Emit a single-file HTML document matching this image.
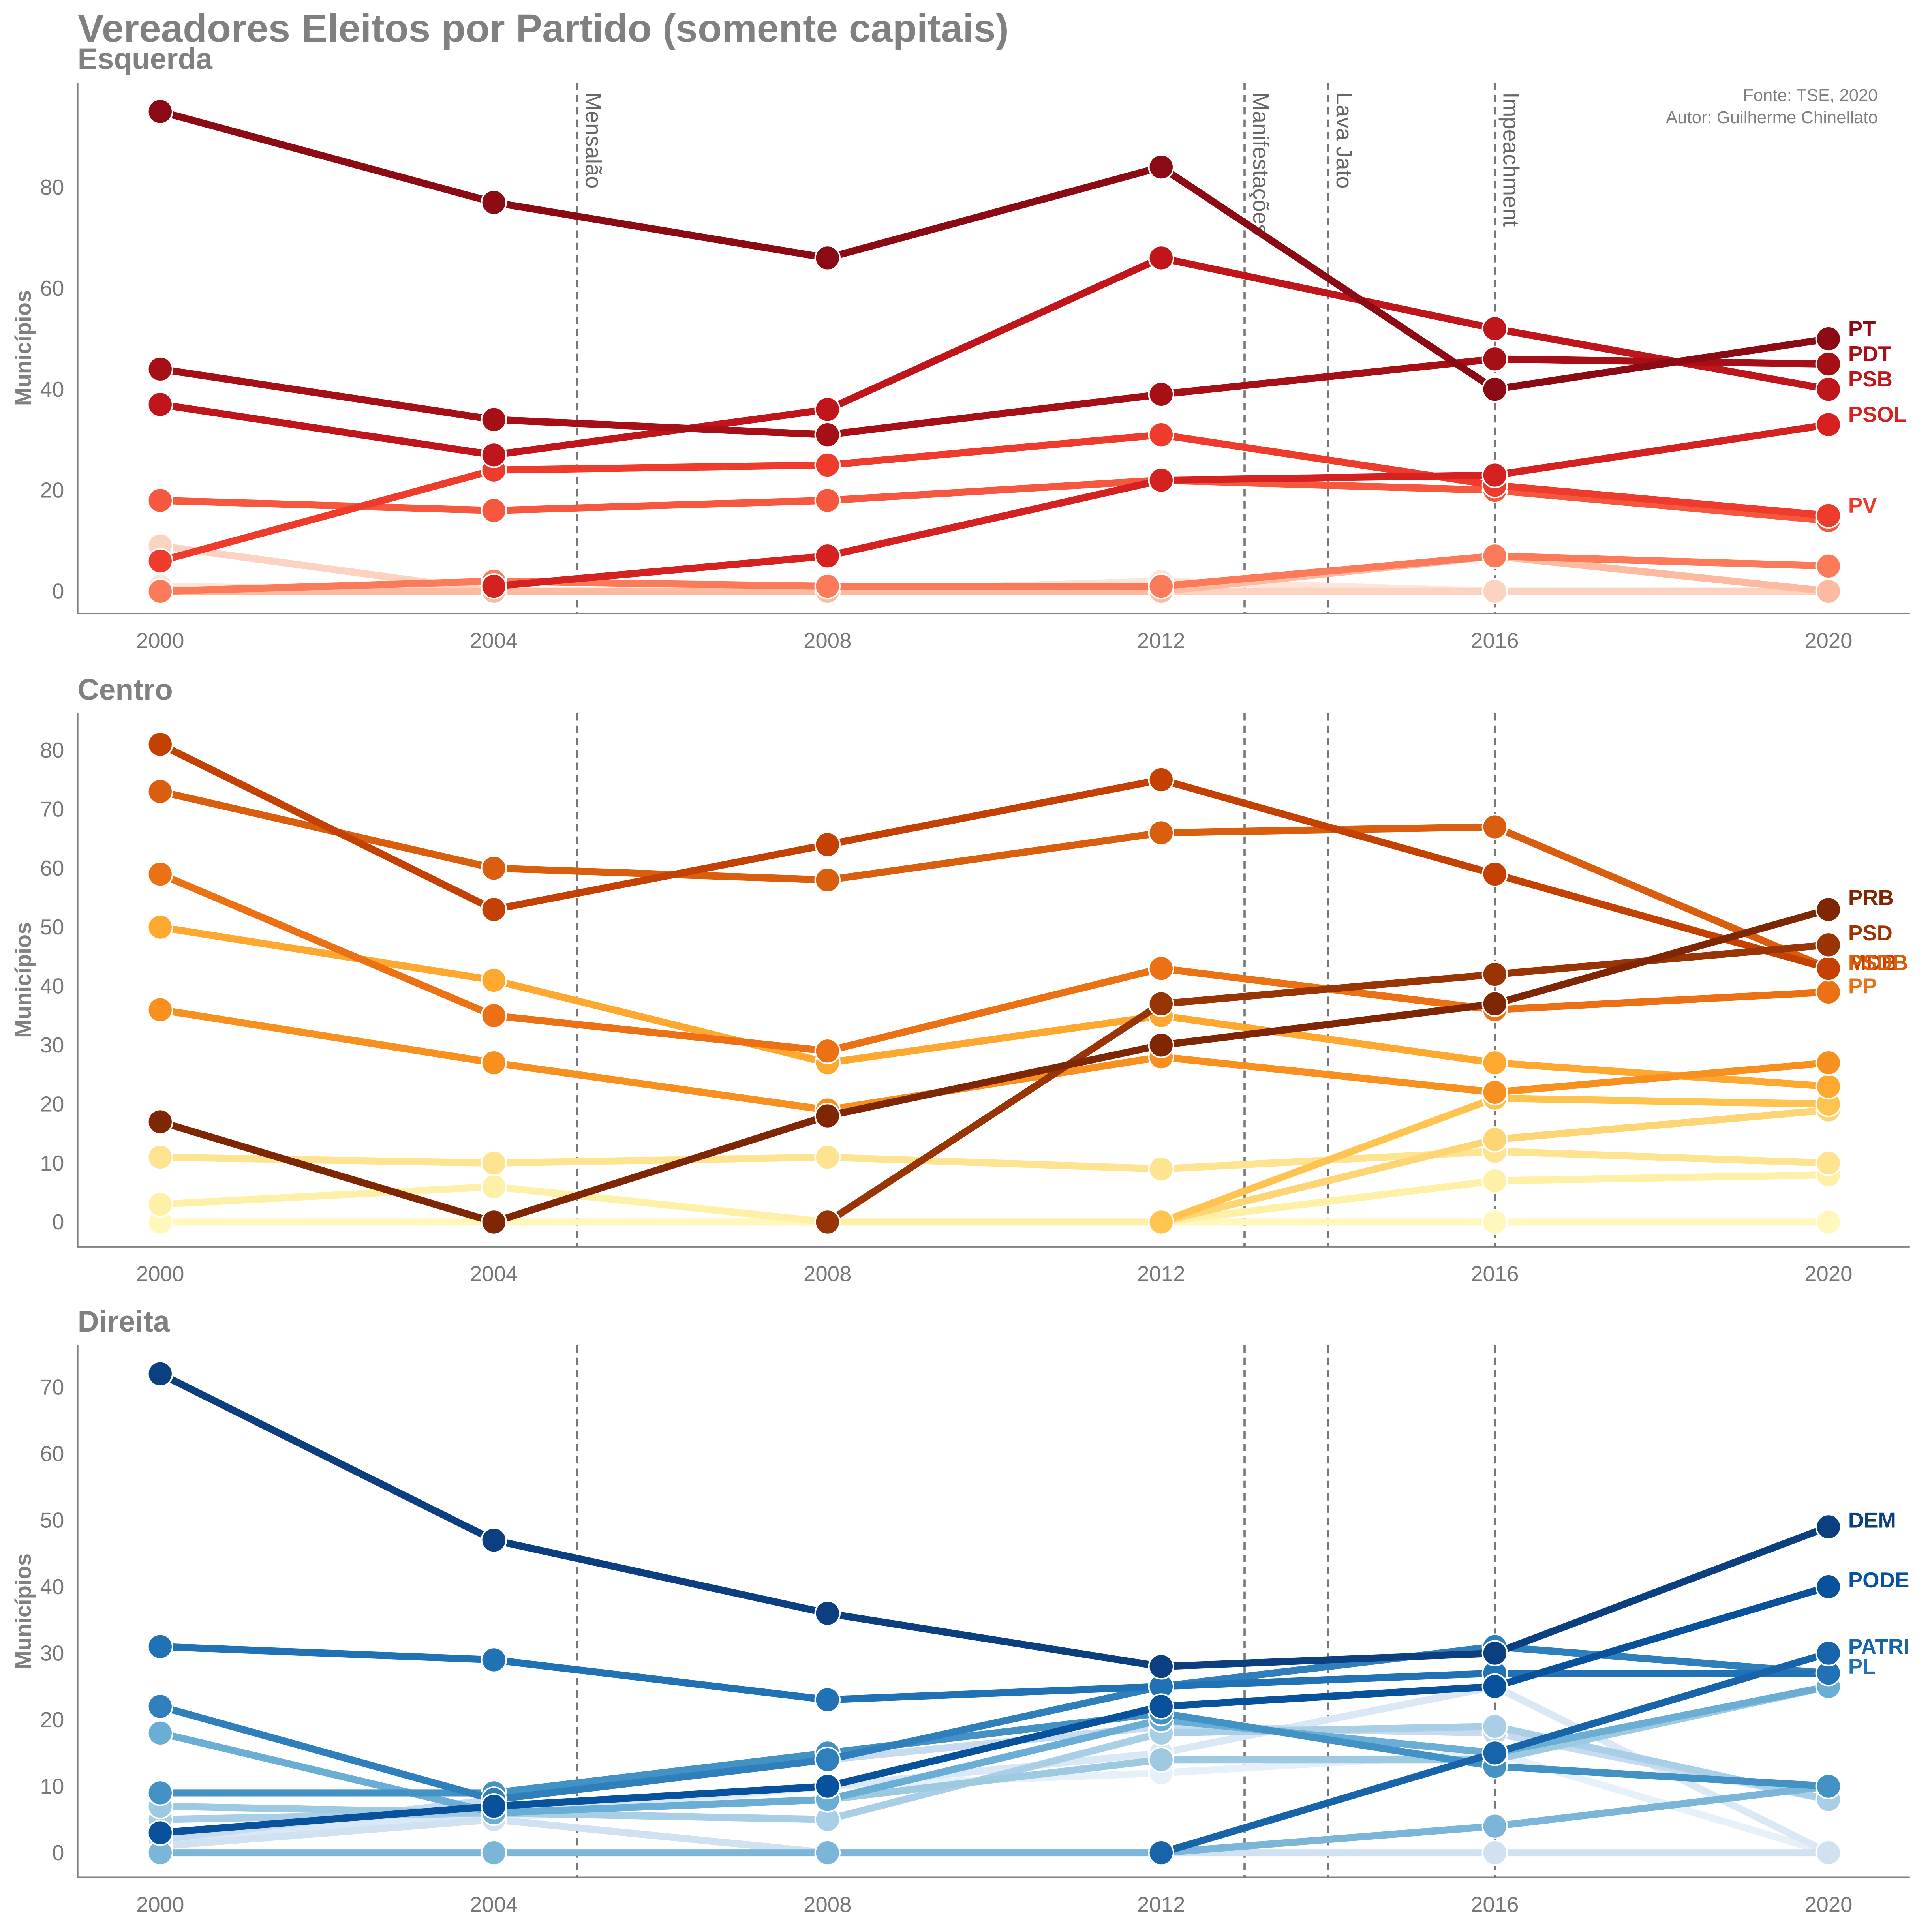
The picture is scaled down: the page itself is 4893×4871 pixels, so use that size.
<!DOCTYPE html>
<html><head><meta charset="utf-8"><style>
html,body{margin:0;padding:0;background:#fff}
svg{display:block;font-family:"Liberation Sans",Arial,sans-serif}
</style></head><body>
<svg id="chart" width="4893" height="4871" viewBox="0 0 1568 1561" xmlns="http://www.w3.org/2000/svg">
<rect width="1568" height="1561" fill="#fff"/>
<text x="63" y="34" font-size="32" font-weight="bold" fill="#808080">Vereadores Eleitos por Partido (somente capitais)</text>
<text x="1524" y="82" font-size="14" fill="#808080" text-anchor="end">Fonte: TSE, 2020</text>
<text x="1524" y="100" font-size="14" fill="#808080" text-anchor="end">Autor: Guilherme Chinellato</text>
</svg>
<script>
const years = [2000, 2004, 2008, 2012, 2016, 2020];
const eventYears = [2005, 2013, 2014, 2016];
const eventLabels = ["Mensalão", "Manifestações", "Lava Jato", "Impeachment"];

const esqColors = ["#8b0a14","#a50f15","#c0151b","#d52221","#ef3b2c","#f6573f","#fb7a5a","#fcbba1","#fcd3c1","#fee5d9"];
const esqPT   = [95,77,66,84,40,50];
const esqPDT  = [44,34,31,39,46,45];
const esqPSB  = [37,27,36,66,52,40];
const esqPSOL = [null,1,7,22,23,33];
const esqE1   = [6,24,25,31,21,15];
const esqPV   = [18,16,18,22,20,14];
const esqE3   = [0,2,1,1,7,5];
const esqE4   = [0,0,0,0,7,0];
const esqE5   = [9,0,0,0,0,0];
const esqE6   = [1,0,0,2,0,0];
const esqLabels = ["PT","PDT","PSB","PSOL","PV"];
const esqLabelVals = [52,47,42,35,17];
const esqLabelColors = ["#8b0a14","#a50f15","#c0151b","#d52221","#ef3b2c"];
const esqTicks = [0,20,40,60,80];

const cenColors = ["#7f2704","#993404","#c44103","#d95f0e","#ec7014","#f7901e","#fea82f","#fec44f","#fed575","#fee391","#fff0a8","#fff7bc"];
const cenPRB  = [17,0,18,30,37,53];
const cenPSD  = [null,null,0,37,42,47];
const cenMDB  = [81,53,64,75,59,43];
const cenPSDB = [73,60,58,66,67,43];
const cenPP   = [59,35,29,43,36,39];
const cenC4   = [36,27,19,28,22,27];
const cenC5   = [50,41,27,35,27,23];
const cenC6   = [null,null,null,0,21,20];
const cenC7   = [null,null,null,0,14,19];
const cenC8   = [11,10,11,9,12,10];
const cenC9   = [3,6,0,0,7,8];
const cenC10  = [0,0,0,0,0,0];
const cenLabels = ["PRB","PSD","MDB","PSDB","PP"];
const cenLabelVals = [55,49,44,44,40];
const cenLabelColors = ["#7f2704","#993404","#c44103","#d95f0e","#ec7014"];
const cenTicks = [0,10,20,30,40,50,60,70,80];

const dirColors = ["#0b3f80","#08519c","#1764ab","#2171b5","#2f7fbc","#4292c6","#6aaed6","#7bb6d9","#9ecae1","#a8cfe5","#c6dbef","#d0e1f2","#dae8f5","#e6f0f9"];
const dirDEM  = [72,47,36,28,30,49];
const dirPODE = [3,7,10,22,25,40];
const dirPATRI= [null,null,null,0,15,30];
const dirPL   = [31,29,23,25,27,27];
const dirB    = [22,8,14,25,31,27];
const dirC    = [9,9,15,21,13,10];
const dirD    = [18,6,8,20,15,25];
const dirE    = [0,0,0,0,4,10];
const dirF    = [7,6,8,14,14,25];
const dirG    = [5,6,5,18,19,8];
const dirH    = [2,8,14,19,18,8];
const dirI    = [1,5,0,0,0,0];
const dirJ    = [2,6,10,15,25,0];
const dirK    = [1,5,10,12,15,0];
const dirLabels = ["DEM","PODE","PATRI","PL"];
const dirLabelVals = [50,41,31,28];
const dirLabelColors = ["#0b3f80","#08519c","#1764ab","#2171b5"];
const dirTicks = [0,10,20,30,40,50,60,70];

const NS = "http://www.w3.org/2000/svg";
const svg = document.getElementById("chart");
function mk(tag, attrs, parent) {
  const e = document.createElementNS(NS, tag);
  for (const k in attrs) e.setAttribute(k, attrs[k]);
  (parent || svg).appendChild(e);
  return e;
}
const xScale = y => 130 + (y - 2000) * 67.7;

function panel(cfg) {
  const g = mk("g", {});
  
  
  const yS = v => cfg.y0 - v * cfg.k;
  const t = mk("text", {x: 63, y: cfg.top + 12, "font-size": 24, "font-weight": "bold", fill: "#808080"}, g);
  t.textContent = cfg.title;
  
  
  const ax = mk("path", {d: `M63 ${cfg.top+23} V${cfg.bottom} H1550`, stroke: "#808080", "stroke-width": 1.3, fill: "none"}, g);
  
  
  cfg.ticks.forEach(v => {
    const tt = mk("text", {x: 52, y: yS(v) + 6, "font-size": 17.5, fill: "#777", "text-anchor": "end"}, g);
    tt.textContent = v;
    
    
  });
  years.forEach(y => {
    const tt = mk("text", {x: xScale(y), y: cfg.bottom + 28, "font-size": 17.5, fill: "#777", "text-anchor": "middle"}, g);
    tt.textContent = y;
    
    
  });
  const yl = mk("text", {x: 0, y: 0, "font-size": 18, "font-weight": "bold", fill: "#808080", "text-anchor": "middle", transform: `translate(25 ${(cfg.top+23+cfg.bottom)/2}) rotate(-90)`}, g);
  yl.textContent = "Municípios";
  
  
  eventYears.forEach((ey, i) => {
    const l = mk("line", {x1: xScale(ey), x2: xScale(ey), y1: cfg.top + 23, y2: cfg.bottom, stroke: "#777", "stroke-width": 1.8, "stroke-dasharray": "6,4"}, g);
    
    
    if (cfg.eventText) {
      const et = mk("text", {x: 0, y: 0, "font-size": 18, fill: "#666", transform: `translate(${xScale(ey)+7} 75) rotate(90)`}, g);
      et.textContent = eventLabels[i];
      
      
    }
  });
  for (let s = cfg.series.length - 1; s >= 0; s--) {
    const vals = cfg.series[s], col = cfg.colors[s];
    let d = "";
    vals.forEach((v, i) => { if (v === null) return; d += (d ? "L" : "M") + xScale(years[i]) + " " + yS(v); });
    const p = mk("path", {d: d, stroke: col, "stroke-width": 5.8, fill: "none", "stroke-linejoin": "round"}, g);
    
    
    vals.forEach((v, i) => {
      if (v === null) return;
      const c = mk("circle", {cx: xScale(years[i]), cy: yS(v), r: 10, fill: col, stroke: "#fff", "stroke-width": 1.3}, g);
      
      
    });
  }
  cfg.labels.forEach((lb, i) => {
    const tt = mk("text", {x: 1500, y: yS(cfg.labelVals[i]) + 6, "font-size": 17.5, "font-weight": "bold", fill: cfg.labelColors[i]}, g);
    tt.textContent = lb;
    
    
  });
}

panel({name: "esquerda", title: "Esquerda", top: 44, bottom: 498, y0: 480, k: 4.1, ticks: esqTicks, eventText: true,
  series: [esqPT, esqPDT, esqPSB, esqPSOL, esqE1, esqPV, esqE3, esqE4, esqE5, esqE6], colors: esqColors,
  labels: esqLabels, labelVals: esqLabelVals, labelColors: esqLabelColors});
panel({name: "centro", title: "Centro", top: 556, bottom: 1012, y0: 992, k: 4.7875, ticks: cenTicks, eventText: false,
  series: [cenPRB, cenPSD, cenMDB, cenPSDB, cenPP, cenC4, cenC5, cenC6, cenC7, cenC8, cenC9, cenC10], colors: cenColors,
  labels: cenLabels, labelVals: cenLabelVals, labelColors: cenLabelColors});
panel({name: "direita", title: "Direita", top: 1069, bottom: 1524, y0: 1504, k: 5.4, ticks: dirTicks, eventText: false,
  series: [dirDEM, dirPODE, dirPATRI, dirPL, dirB, dirC, dirD, dirE, dirF, dirG, dirH, dirI, dirJ, dirK], colors: dirColors,
  labels: dirLabels, labelVals: dirLabelVals, labelColors: dirLabelColors});
</script>
</body></html>
